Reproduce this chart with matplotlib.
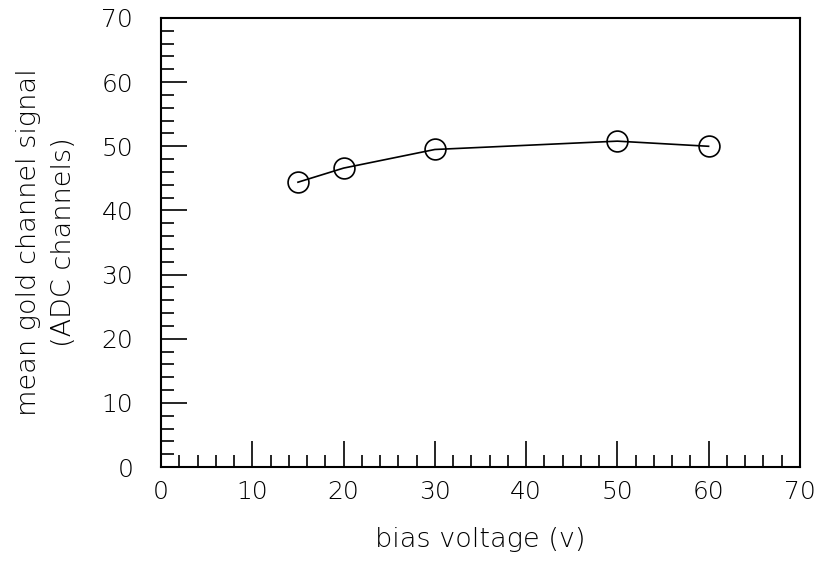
import numpy as np
import matplotlib.pyplot as plt
from matplotlib.ticker import MultipleLocator

# bias scan, gold channel
bias = [15, 20, 30, 50, 60]
mean_signal = [44.4, 46.6, 49.5, 50.8, 50.0]

fig = plt.figure(figsize=(8.22, 5.62), dpi=100)
ax = fig.add_axes([0.196, 0.169, 0.777, 0.799])

ax.plot(bias, mean_signal, 'k-', lw=1.2)
ax.plot(bias, mean_signal, 'o', ms=15, mfc='none', mec='k', mew=1.2)

ax.set_xlim(0, 70)
ax.set_ylim(0, 70)
ax.xaxis.set_major_locator(MultipleLocator(10))
ax.xaxis.set_minor_locator(MultipleLocator(2))
ax.yaxis.set_major_locator(MultipleLocator(10))
ax.yaxis.set_minor_locator(MultipleLocator(2))
ax.tick_params(which='both', direction='in', top=False, right=False, width=1.2)
ax.tick_params(which='major', length=19, labelsize=18, pad=9)
ax.tick_params(which='minor', length=9)
ax.tick_params(axis='y', which='major', pad=20)
for s in ax.spines.values():
    s.set_linewidth(1.5)

ax.set_xlabel('bias voltage (v)', fontsize=19.5, labelpad=17, fontweight='light')
ax.set_ylabel('mean gold channel signal\n(ADC channels)', fontsize=19.5,
              labelpad=18, linespacing=1.5, fontweight='light')

for lab in ax.get_xticklabels() + ax.get_yticklabels():
    lab.set_fontweight('light')

fig.savefig('out.png', dpi=100)
